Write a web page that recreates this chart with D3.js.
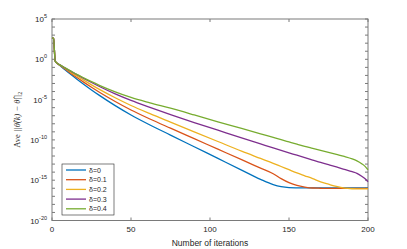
<!DOCTYPE html>
<html lang="en">
<head>
<meta charset="UTF-8">
<title>Ave error vs iterations</title>
<style>
    body { margin: 0; padding: 0; background: #fff; }
    svg { display: block; font-family: "Liberation Sans", Arial, sans-serif; }
</style>
</head>
<body>
<div id="chart"></div>
<script src="https://d3js.org/d3.v7.min.js"></script>
<script>
    const iters = [0, 1, 2, 3, 5, 8, 12, 16, 20, 25, 30, 40, 50, 62, 75, 90, 105, 120, 132, 140, 145, 150, 155, 160, 165, 170, 175, 180, 185, 190, 193, 196, 198, 200];

    // log10 of the average error, per delta
    const delta0 = [2.7, 2.6, -0.2, -0.45, -0.78, -1.26, -1.89, -2.5, -3.09, -3.8, -4.48, -5.75, -6.91, -8.15, -9.4, -10.85, -12.3, -13.75, -14.9, -15.55, -15.8, -15.92, -15.95, -15.96, -15.96, -15.96, -15.96, -15.96, -15.96, -15.96, -15.96, -15.96, -15.96, -15.96];
    const delta1 = [2.7, 2.6, -0.2, -0.45, -0.75, -1.18, -1.75, -2.3, -2.83, -3.47, -4.09, -5.24, -6.29, -7.41, -8.55, -9.85, -11.15, -12.45, -13.5, -14.2, -14.8, -15.3, -15.65, -15.85, -15.97, -16.0, -16.02, -16.02, -16.02, -16.02, -16.02, -16.02, -16.02, -16.02];
    const delta2 = [2.7, 2.6, -0.2, -0.45, -0.72, -1.11, -1.62, -2.11, -2.59, -3.17, -3.73, -4.77, -5.73, -6.75, -7.8, -9.0, -10.2, -11.4, -12.3, -12.9, -13.3, -13.7, -14.1, -14.45, -14.8, -15.2, -15.5, -15.78, -15.98, -16.06, -16.08, -16.08, -16.08, -16.08];
    const delta3 = [2.7, 2.6, -0.2, -0.45, -0.69, -1.04, -1.5, -1.94, -2.37, -2.88, -3.37, -4.29, -5.1, -5.96, -6.85, -7.85, -8.8, -9.75, -10.5, -11.0, -11.3, -11.6, -11.9, -12.2, -12.5, -12.8, -13.08, -13.35, -13.65, -13.95, -14.15, -14.5, -14.8, -15.2];
    const delta4 = [2.7, 2.6, -0.2, -0.45, -0.69, -1.03, -1.47, -1.9, -2.3, -2.78, -3.23, -4.04, -4.73, -5.4, -6.07, -6.9, -7.75, -8.58, -9.25, -9.7, -9.98, -10.25, -10.52, -10.8, -11.05, -11.3, -11.55, -11.8, -12.05, -12.35, -12.6, -12.95, -13.25, -13.7];

    const seriesNames = ["δ=0", "δ=0.1", "δ=0.2", "δ=0.3", "δ=0.4"];
    const seriesValues = [delta0, delta1, delta2, delta3, delta4];
    const colors = ["#0072BD", "#D95319", "#EDB120", "#7E2F8E", "#77AC30"];

    const xTicks = [0, 50, 100, 150, 200];
    const yMajor = [5, 0, -5, -10, -15, -20];

    const W = 407, H = 249;
    const margin = { top: 19, right: 39, bottom: 28.5, left: 52 };
    const width = W - margin.left - margin.right;
    const height = H - margin.top - margin.bottom;

    const svg = d3.select("#chart").append("svg")
        .attr("width", W)
        .attr("height", H);

    const g = svg.append("g")
        .attr("transform", "translate(" + margin.left + "," + margin.top + ")");

    const x = d3.scaleLinear().domain([0, 200]).range([0, width]);
    const y = d3.scaleLinear().domain([-20, 5]).range([height, 0]);

    const axisColor = "#7a7a7a";
    const tickLen = 3;

    // box
    g.append("rect")
        .attr("x", 0).attr("y", 0)
        .attr("width", width).attr("height", height)
        .attr("fill", "none")
        .attr("stroke", axisColor)
        .attr("stroke-width", 1);

    // y ticks every decade, both sides
    const decades = d3.range(-20, 6);
    decades.forEach(d => {
        g.append("line")
            .attr("x1", 0).attr("x2", tickLen)
            .attr("y1", y(d)).attr("y2", y(d))
            .attr("stroke", axisColor);
        g.append("line")
            .attr("x1", width).attr("x2", width - tickLen)
            .attr("y1", y(d)).attr("y2", y(d))
            .attr("stroke", axisColor);
    });

    // x ticks bottom and top
    xTicks.forEach(t => {
        g.append("line")
            .attr("x1", x(t)).attr("x2", x(t))
            .attr("y1", height).attr("y2", height - tickLen)
            .attr("stroke", axisColor);
        g.append("line")
            .attr("x1", x(t)).attr("x2", x(t))
            .attr("y1", 0).attr("y2", tickLen)
            .attr("stroke", axisColor);
        g.append("text")
            .attr("x", x(t))
            .attr("y", height + 11)
            .attr("text-anchor", "middle")
            .attr("font-size", 8)
            .attr("fill", "#262626")
            .text(t);
    });

    // y labels 10^n
    yMajor.forEach(d => {
        const t = g.append("text")
            .attr("x", -5)
            .attr("y", y(d) + 3)
            .attr("text-anchor", "end")
            .attr("font-size", 8)
            .attr("fill", "#262626");
        t.append("tspan").text("10");
        t.append("tspan")
            .attr("dy", -4)
            .attr("font-size", 5.5)
            .text(d);
    });

    // lines
    const line = d3.line()
        .x((d, i) => x(iters[i]))
        .y(d => y(d))
        .curve(d3.curveMonotoneX);

    seriesValues.forEach((vals, k) => {
        g.append("path")
            .datum(vals)
            .attr("fill", "none")
            .attr("stroke", colors[k])
            .attr("stroke-width", 1.3)
            .attr("d", line);
    });

    // axis labels
    svg.append("text")
        .attr("x", margin.left + width / 2)
        .attr("y", H - 3.5)
        .attr("text-anchor", "middle")
        .attr("font-size", 8.5)
        .attr("fill", "#262626")
        .text("Number of iterations");

    const yl = svg.append("text")
        .attr("transform", "translate(20," + (margin.top + height / 2) + ") rotate(-90)")
        .attr("text-anchor", "middle")
        .attr("font-size", 8.5)
        .attr("font-family", "'Liberation Serif', serif")
        .attr("fill", "#262626");
    yl.append("tspan").text("Ave ");
    yl.append("tspan").text("||θ̂(k) − θ̂||").attr("font-style", "italic");
    yl.append("tspan").attr("dy", 2).attr("font-size", 6).text("2");

    // legend
    const lg = svg.append("g").attr("transform", "translate(62,164)");
    lg.append("rect")
        .attr("width", 52).attr("height", 51)
        .attr("fill", "#fff")
        .attr("stroke", "#262626")
        .attr("stroke-width", 0.6);
    seriesNames.forEach((name, k) => {
        const ry = 6 + k * 9.7;
        lg.append("line")
            .attr("x1", 4).attr("x2", 24)
            .attr("y1", ry).attr("y2", ry)
            .attr("stroke", colors[k])
            .attr("stroke-width", 1.3);
        lg.append("text")
            .attr("x", 27)
            .attr("y", ry + 2.5)
            .attr("font-size", 7)
            .attr("fill", "#262626")
            .text(name);
    });
</script>
</body>
</html>
